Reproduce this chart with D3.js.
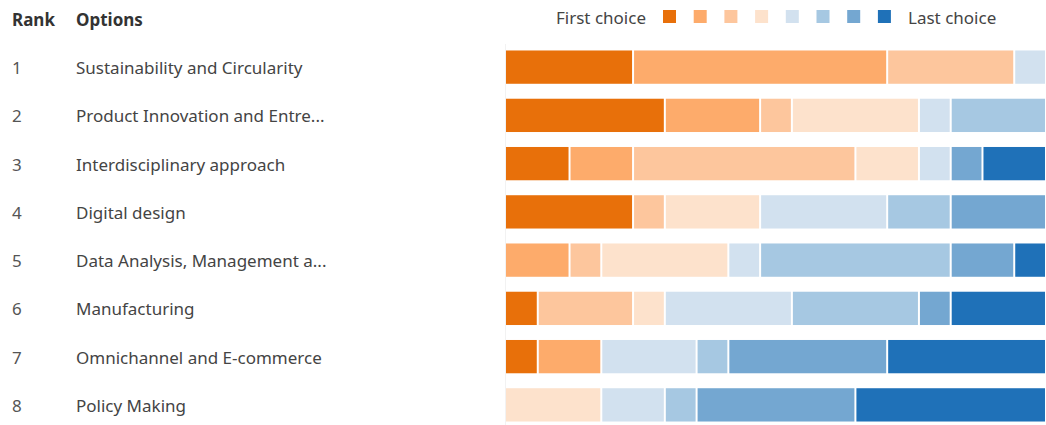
<!DOCTYPE html>
<html>
<head>
<meta charset="utf-8">
<script src="https://d3js.org/d3.v7.min.js"></script>
<style>
  body { margin: 0; background: #fff; }
  svg { display: block; font-family: "Noto Sans", "Open Sans", sans-serif; }
</style>
</head>
<body>
<div id="vis-container"></div>
<script>
// ranking results, 17 responses, counts per choice position (first .. last)
var ranks = [1, 2, 3, 4, 5, 6, 7, 8];
var options = [
  "Sustainability and Circularity",
  "Product Innovation and Entre...",
  "Interdisciplinary approach",
  "Digital design",
  "Data Analysis, Management a...",
  "Manufacturing",
  "Omnichannel and E-commerce",
  "Policy Making"
];
var choice1 = [4, 5, 2, 4, 0, 1, 1, 0];
var choice2 = [8, 3, 2, 0, 2, 0, 2, 0];
var choice3 = [4, 1, 7, 1, 1, 3, 0, 0];
var choice4 = [0, 4, 2, 3, 4, 1, 0, 3];
var choice5 = [1, 1, 1, 4, 1, 4, 3, 2];
var choice6 = [0, 3, 0, 2, 6, 4, 1, 1];
var choice7 = [0, 0, 1, 3, 2, 1, 5, 5];
var choice8 = [0, 0, 2, 0, 1, 3, 5, 6];
var choiceKeys = ["c1", "c2", "c3", "c4", "c5", "c6", "c7", "c8"];
var colors = ["#e8700a", "#fdab6b", "#fdc69d", "#fde2cc", "#d2e1ef", "#a6c8e2", "#74a7d1", "#1f71b8"];

var cols = [choice1, choice2, choice3, choice4, choice5, choice6, choice7, choice8];
var rows = ranks.map(function (r, i) {
  var o = { rank: r, option: options[i] };
  choiceKeys.forEach(function (k, j) { o[k] = cols[j][i]; });
  return o;
});

var width = 1046, height = 425;
var svg = d3.select("#vis-container").append("svg")
  .attr("width", width)
  .attr("height", height);

var total = d3.max(rows, function (d) { return d3.sum(choiceKeys, function (k) { return d[k]; }); });

var x = d3.scaleLinear().domain([0, total]).range([506, 1046]);
var y = d3.scaleBand().domain(ranks).range([43, 429]).paddingInner(0.31).paddingOuter(0.155);
var color = d3.scaleOrdinal().domain(choiceKeys).range(colors);

var fs = 17;

// header
svg.append("text").attr("x", 12).attr("y", 26).text("Rank")
  .attr("font-size", fs).attr("font-weight", 700).attr("fill", "#333");
svg.append("text").attr("x", 76).attr("y", 26).text("Options")
  .attr("font-size", fs).attr("font-weight", 700).attr("fill", "#333");

// legend
var legend = svg.append("g");
legend.append("text").attr("x", 646).attr("y", 24).attr("text-anchor", "end")
  .attr("font-size", fs).attr("fill", "#444").text("First choice");
legend.selectAll("rect")
  .data(choiceKeys)
  .enter()
  .append("rect")
  .attr("x", function (d, i) { return 663 + i * 30.7; })
  .attr("y", 10)
  .attr("width", 13)
  .attr("height", 13)
  .attr("fill", function (d) { return color(d); });
legend.append("text").attr("x", 908).attr("y", 24)
  .attr("font-size", fs).attr("fill", "#444").text("Last choice");

// faint baseline at bar start
svg.append("line")
  .attr("x1", x(0) - 0.5).attr("x2", x(0) - 0.5)
  .attr("y1", 44).attr("y2", 425)
  .attr("stroke", "#f2f2f2");

// row labels
var labels = svg.append("g").selectAll("g")
  .data(rows)
  .enter()
  .append("g")
  .attr("transform", function (d) { return "translate(0," + (y(d.rank) + y.bandwidth() / 2 + 1) + ")"; });
labels.append("text")
  .attr("x", 12).attr("dy", "0.35em")
  .attr("font-size", fs).attr("fill", "#555")
  .text(function (d) { return d.rank; });
labels.append("text")
  .attr("x", 76).attr("dy", "0.35em")
  .attr("font-size", fs).attr("fill", "#444")
  .text(function (d) { return d.option; });

// stacked bars
var series = d3.stack().keys(choiceKeys)(rows);
svg.append("g").selectAll("g")
  .data(series)
  .enter()
  .append("g")
  .attr("fill", function (d) { return color(d.key); })
  .selectAll("rect")
  .data(function (d) { return d.filter(function (s) { return s[1] > s[0]; }); })
  .enter()
  .append("rect")
  .attr("x", function (d) { return x(d[0]) + (d[0] > 0 ? 1 : 0); })
  .attr("y", function (d) { return y(d.data.rank); })
  .attr("width", function (d) { return Math.max(0, x(d[1]) - x(d[0]) - (d[0] > 0 ? 2 : 1)); })
  .attr("height", y.bandwidth());
</script>
</body>
</html>
